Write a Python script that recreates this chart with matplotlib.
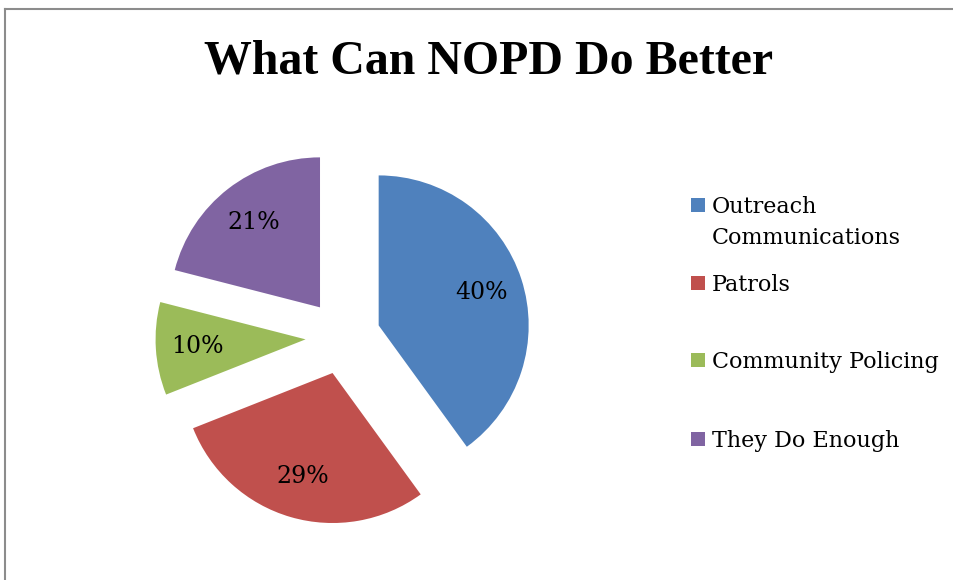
import matplotlib

matplotlib.use("Agg")
import matplotlib.pyplot as plt
from matplotlib.patches import Rectangle
from matplotlib.lines import Line2D

categories = ["Outreach\nCommunications", "Patrols", "Community Policing",
              "They Do Enough"]
shares = [40, 29, 10, 21]
colors = ["#4F81BD", "#C0504D", "#9BBB59", "#8064A2"]
title = "What Can NOPD Do Better"

W, H = 954, 580
fig = plt.figure(figsize=(W / 100, H / 100), dpi=100)
SERIF = ["DejaVu Serif"]
TITLE_FONT = ["Liberation Serif", "DejaVu Serif"]

# chart border: top and left edges only
fig.add_artist(Line2D([5 / W, 1], [1 - 8.5 / H, 1 - 8.5 / H], color="#8c8c8c",
                      lw=1.5, transform=fig.transFigure))
fig.add_artist(Line2D([5 / W, 5 / W], [0, 1 - 8.5 / H], color="#8c8c8c",
                      lw=1.5, transform=fig.transFigure))

# pie: centre (343, 337) px, radius 150 px
cx, cy, r = 343, 337, 150
ax = fig.add_axes([(cx - 225) / W, (H - cy - 225) / H, 450 / W, 450 / H])
wedges, texts, autotexts = ax.pie(
    shares, colors=colors, startangle=90, counterclock=False,
    explode=[0.25] * len(shares), autopct="%1.0f%%", pctdistance=0.72,
    textprops=dict(family=SERIF, fontsize=17, color="black"))
ax.set_xlim(-1.5, 1.5); ax.set_ylim(-1.5, 1.5)
ax.set_aspect("auto")
ax.axis("off")

fig.text(489 / W, 1 - 73 / H, title, ha="center", va="baseline",
         family=TITLE_FONT, fontsize=34.5, fontweight="bold")

# legend drawn by hand: square on the first line of each label
baselines = [213, 291, 368, 447]
for lab, col, yb in zip(categories, colors, baselines):
    fig.add_artist(Rectangle((691 / W, 1 - (yb - 1) / H), 14 / W, 14 / H,
                             facecolor=col, edgecolor="none",
                             transform=fig.transFigure))
    lines = lab.split("\n")
    for i, ln in enumerate(lines):
        fig.text(712 / W, 1 - (yb + 31 * i) / H, ln, ha="left",
                 va="baseline", family=SERIF, fontsize=16)

fig.savefig("out.png", dpi=100)
